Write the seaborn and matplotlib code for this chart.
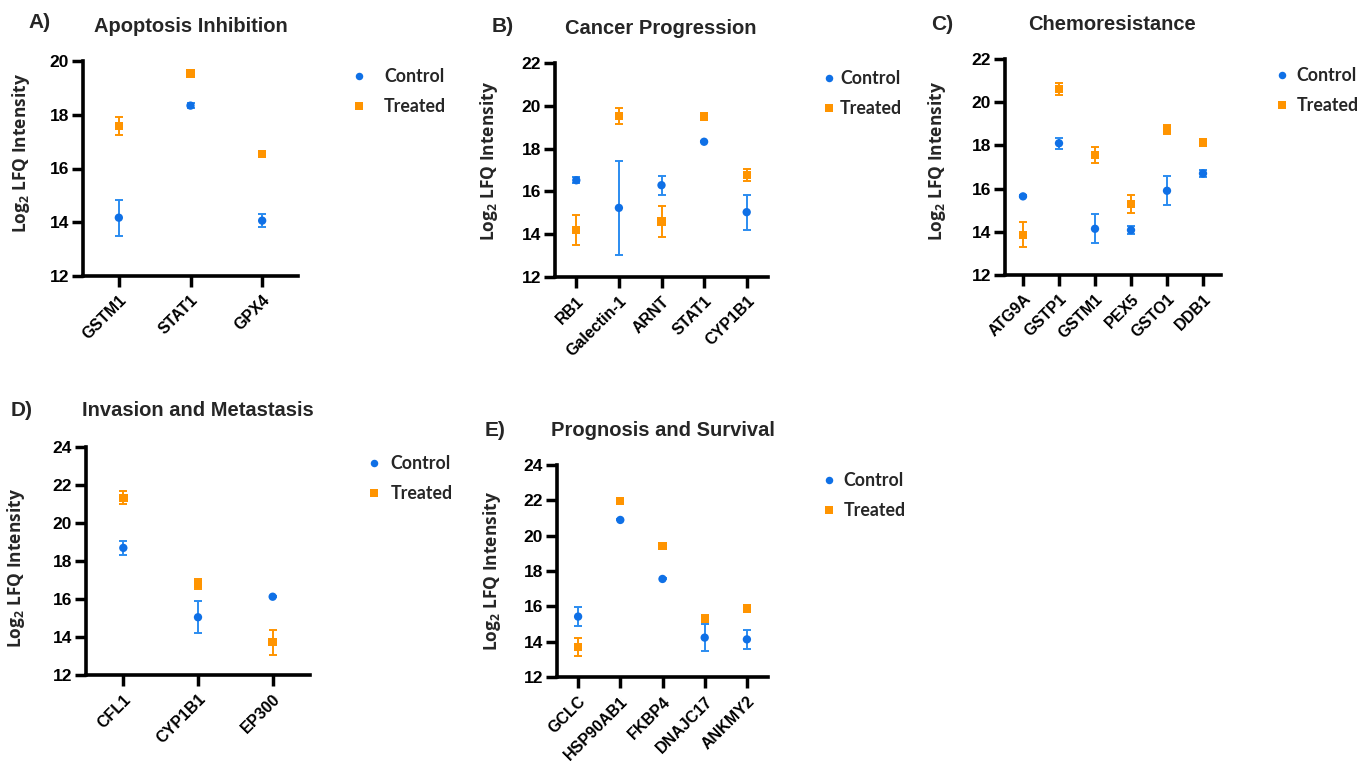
import numpy as np
import pandas as pd
import matplotlib
matplotlib.use("Agg")
import matplotlib.pyplot as plt
import seaborn as sns

W, H = 1369, 761

# panel data: genes, control mean/err, treated mean/err
genes_a = ["GSTM1", "STAT1", "GPX4"]
ctrl_a = [14.17, 18.34, 14.06]
ctrl_err_a = [0.67, 0.10, 0.25]
trt_a = [17.58, 19.53, 16.54]
trt_err_a = [0.33, 0.10, 0.05]

genes_b = ["RB1", "Galectin-1", "ARNT", "STAT1", "CYP1B1"]
ctrl_b = [16.52, 15.23, 16.29, 18.32, 15.03]
ctrl_err_b = [0.15, 2.20, 0.45, 0.03, 0.82]
trt_b = [14.20, 19.52, 14.59, 19.50, 16.78]
trt_err_b = [0.69, 0.38, 0.73, 0.03, 0.28]

genes_c = ["ATG9A", "GSTP1", "GSTM1", "PEX5", "GSTO1", "DDB1"]
ctrl_c = [15.64, 18.10, 14.14, 14.08, 15.90, 16.70]
ctrl_err_c = [0.05, 0.25, 0.68, 0.20, 0.67, 0.15]
trt_c = [13.86, 20.61, 17.56, 15.28, 18.73, 18.13]
trt_err_c = [0.58, 0.28, 0.36, 0.42, 0.20, 0.05]

genes_d = ["CFL1", "CYP1B1", "EP300"]
ctrl_d = [18.69, 15.04, 16.12]
ctrl_err_d = [0.38, 0.83, 0.03]
trt_d = [21.33, 16.79, 13.72]
trt_err_d = [0.33, 0.27, 0.65]

genes_e = ["GCLC", "HSP90AB1", "FKBP4", "DNAJC17", "ANKMY2"]
ctrl_e = [15.42, 20.89, 17.55, 14.23, 14.13]
ctrl_err_e = [0.54, 0.03, 0.03, 0.76, 0.55]
trt_e = [13.70, 21.98, 19.42, 15.30, 15.87]
trt_err_e = [0.52, 0.03, 0.03, 0.20, 0.05]

BLUE = "#0F70E6"
BLUE_ERR = "#2B8CF0"
ORANGE = "#FF9400"

sns.set_theme(style="ticks")
plt.rcParams["font.family"] = ["Liberation Sans", "DejaVu Sans"]
plt.rcParams["mathtext.fontset"] = "custom"
plt.rcParams["mathtext.rm"] = "Open Sans:bold"
plt.rcParams["mathtext.default"] = "rm"

fig = plt.figure(figsize=(W / 100, H / 100), dpi=100)


def px_axes(l, r, t, b):
    return fig.add_axes([l / W, 1 - b / H, (r - l) / W, (b - t) / H])


panels = [
    # letter, title, genes, ctrl, ctrl_err, trt, trt_err, ylim, axes px, letter px, title px, legend px, label xy, textpad
    ("A)", "Apoptosis Inhibition", genes_a, ctrl_a, ctrl_err_a, trt_a, trt_err_a, (12, 20),
     (83, 298, 61, 276), (40, 22), (191, 26), (359, 76), (-0.237, 0.57), 1.1),
    ("B)", "Cancer Progression", genes_b, ctrl_b, ctrl_err_b, trt_b, trt_err_b, (12, 22),
     (555, 768, 63, 277), (503, 26), (661, 28), (829, 78), (-0.258, 0.54), 0.3),
    ("C)", "Chemoresistance", genes_c, ctrl_c, ctrl_err_c, trt_c, trt_err_c, (12, 22),
     (1005, 1221, 59, 275), (942, 24), (1112, 25), (1282, 75), (-0.264, 0.53), 0.5),
    ("D)", "Invasion and Metastasis", genes_d, ctrl_d, ctrl_err_d, trt_d, trt_err_d, (12, 24),
     (86, 310, 447, 675), (22, 410), (198, 410), (374, 463), (-0.262, 0.47), 0.6),
    ("E)", "Prognosis and Survival", genes_e, ctrl_e, ctrl_err_e, trt_e, trt_err_e, (12, 24),
     (557, 768, 465, 677), (495, 430), (663, 430), (829, 480), (-0.254, 0.50), 0.5),
]

for (letter, title, genes, ctrl, cerr, trt, terr, ylim, box, lpos, tpos, legpos,
     labxy, tpad) in panels:
    ax = px_axes(*box)
    df = pd.DataFrame({
        "gene": genes + genes,
        "value": ctrl + trt,
        "err": cerr + terr,
        "group": ["Control"] * len(genes) + ["Treated"] * len(genes),
    })
    x = np.arange(len(genes))
    ax.errorbar(x, ctrl, yerr=cerr, fmt="none", ecolor=BLUE_ERR, elinewidth=1.4,
                capsize=3, capthick=1.4, zorder=2)
    ax.errorbar(x, trt, yerr=terr, fmt="none", ecolor=ORANGE, elinewidth=1.4,
                capsize=3, capthick=1.4, zorder=2)
    sns.scatterplot(data=df, x="gene", y="value", hue="group", style="group",
                    markers={"Control": "o", "Treated": "s"},
                    palette={"Control": BLUE, "Treated": ORANGE},
                    s=36, linewidth=0, ax=ax, zorder=3)
    ax.set_xlim(-0.5, len(genes) - 0.5)
    ax.set_ylim(*ylim)
    ax.set_yticks(np.arange(ylim[0], ylim[1] + 0.1, 2))
    ax.set_xticks(x)
    ax.set_xticklabels(genes, rotation=45, ha="right", rotation_mode="anchor",
                       fontsize=11.5, fontweight="bold")
    for lab in ax.get_yticklabels():
        lab.set_fontweight("bold")
        lab.set_fontsize(12.5)
    ax.tick_params(width=2.5, length=8, colors="black", pad=2)
    ax.tick_params(axis="x", pad=4)
    sns.despine(ax=ax)
    for s in ["left", "bottom"]:
        ax.spines[s].set_linewidth(2.6)
        ax.spines[s].set_color("black")
    ax.set_xlabel("")
    ax.set_ylabel(r"Log$_2$ LFQ Intensity", fontsize=12.5, fontweight="bold",
                  family="Open Sans")
    ax.yaxis.set_label_coords(*labxy)

    ax.legend_.remove()
    handles, labels = ax.get_legend_handles_labels()
    fig.legend(handles, labels, loc="upper left",
               bbox_to_anchor=((legpos[0] - 5) / W, 1 - (legpos[1] - 8) / H),
               frameon=False, borderpad=0, borderaxespad=0, handlelength=0.6,
               handletextpad=tpad, labelspacing=0.75, markerscale=0.9,
               prop={"family": "Lato", "weight": "bold", "size": 12.8})

    fig.text(lpos[0] / W, 1 - lpos[1] / H, letter, fontsize=15, fontweight="bold",
             ha="center", va="center")
    fig.text(tpos[0] / W, 1 - tpos[1] / H, title, fontsize=14.5, fontweight="bold",
             ha="center", va="center")

fig.savefig("out.png", dpi=100)
